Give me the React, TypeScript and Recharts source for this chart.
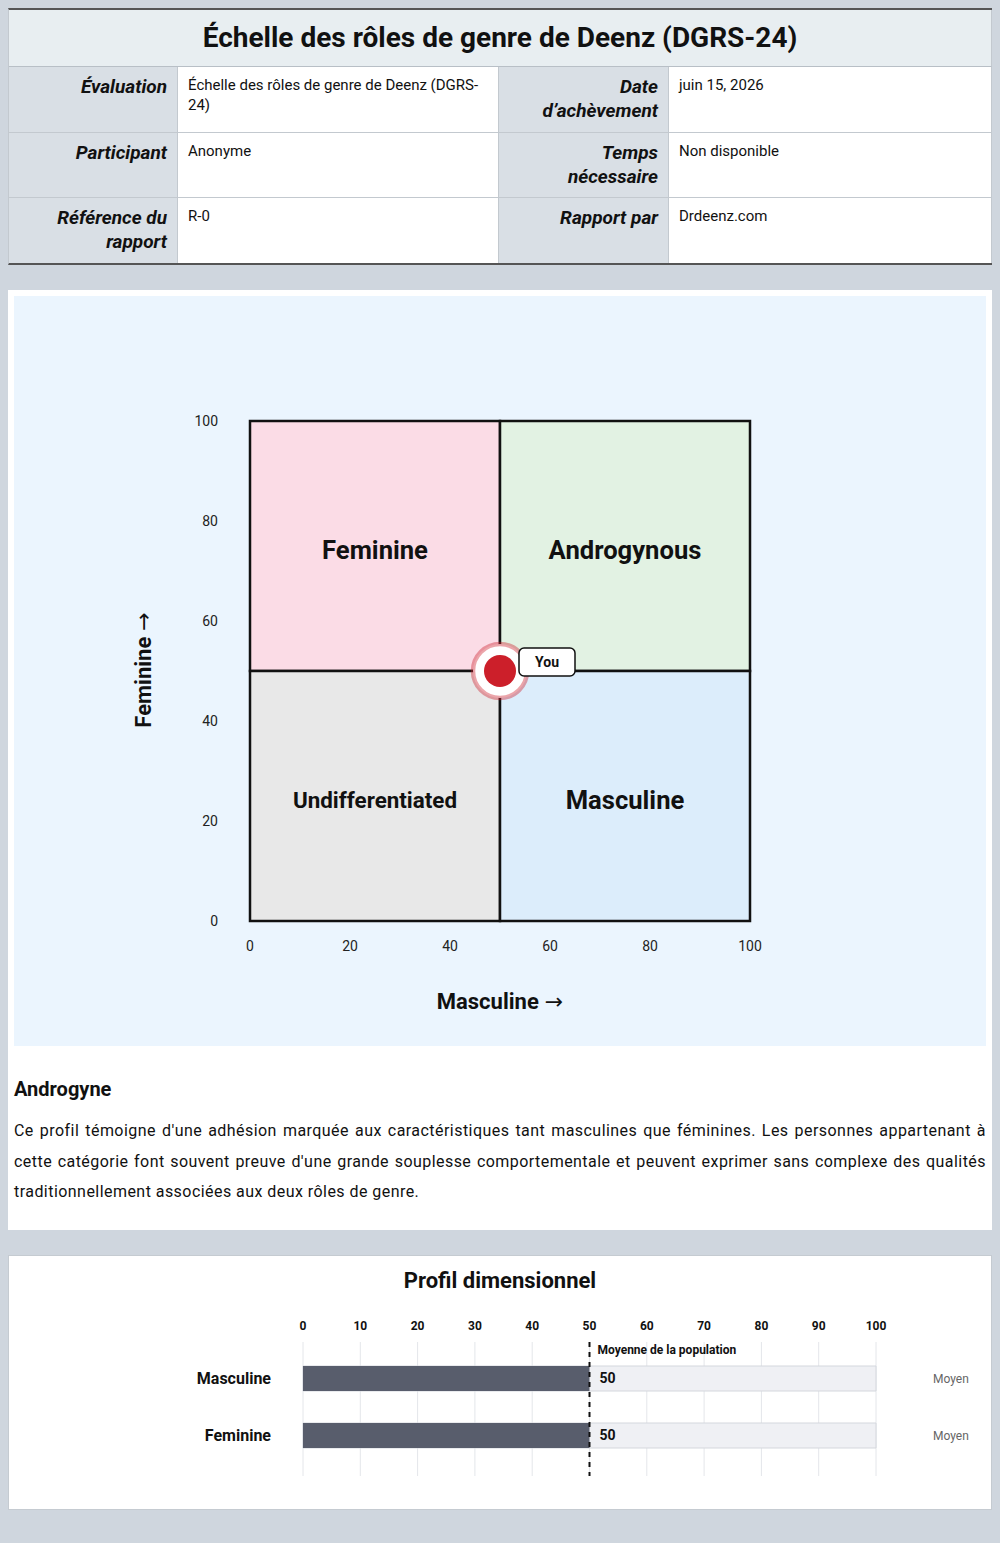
import {
  ScatterChart, Scatter, XAxis, YAxis, ReferenceArea,
  BarChart, Bar, CartesianGrid, ReferenceLine, LabelList,
} from 'recharts';

// quadrant map
const axisTicks = [0, 20, 40, 60, 80, 100];
const quadrantNames = ['Feminine', 'Androgynous', 'Undifferentiated', 'Masculine'];
const quadrantX: [number, number][] = [[0, 50], [50, 100], [0, 50], [50, 100]];
const quadrantY: [number, number][] = [[50, 100], [50, 100], [0, 50], [0, 50]];
const quadrantColors = ['#fbdce6', '#e2f2e3', '#e8e8e8', '#dcedfb'];
const youMasculine = 50;
const youFeminine = 50;

// dimensional profile
const dimensions = ['Masculine', 'Feminine'];
const dimensionScores = [50, 50];
const dimensionLevels = ['Moyen', 'Moyen'];
const populationMean = 50;
const profileTicks = [0, 10, 20, 30, 40, 50, 60, 70, 80, 90, 100];

const infoRows = [
  ['Évaluation', 'Échelle des rôles de genre de Deenz (DGRS-24)', 'Date d’achèvement', 'juin 15, 2026'],
  ['Participant', 'Anonyme', 'Temps nécessaire', 'Non disponible'],
  ['Référence du rapport', 'R-0', 'Rapport par', 'Drdeenz.com'],
];
const rowHeights = [65, 64, 65];

const font = 'Roboto, "Noto Sans", sans-serif';
const arrowFont = '"DejaVu Sans", sans-serif';

function YouMarker(props: any) {
  const { cx, cy } = props;
  return (
    <g>
      <circle cx={cx} cy={cy} r={27} fill="#fff" stroke="rgba(204,31,42,0.4)" strokeWidth={4.5} />
      <circle cx={cx} cy={cy} r={16} fill="#cc1f2a" />
      <rect x={cx + 19} y={cy - 23} width={56} height={28} rx={5} fill="#fff" stroke="#111" strokeWidth={1.5} />
      <text x={cx + 47} y={cy - 4} textAnchor="middle" fontSize={14} fontWeight={700} fill="#111">You</text>
    </g>
  );
}

function InfoTable() {
  const labelCell: any = {
    background: '#d9dfe5', fontWeight: 700, fontStyle: 'italic', fontSize: 19, lineHeight: '24px',
    textAlign: 'right', padding: '8px 10px', boxSizing: 'border-box',
    borderRight: '1px solid #c3c9cf', color: '#111',
  };
  const valueCell: any = {
    background: '#fff', fontSize: 15, lineHeight: '20px', padding: '8px 10px',
    boxSizing: 'border-box', borderRight: '1px solid #c3c9cf', color: '#111',
  };
  return (
    <div style={{ borderTop: '2px solid #555', borderBottom: '2px solid #555', borderLeft: '1px solid #c3c9cf' }}>
      <div style={{ background: '#e8eef1', height: 56, lineHeight: '56px', textAlign: 'center', fontSize: 28, fontWeight: 700, color: '#111', borderBottom: '1px solid #b8bfc6', borderRight: '1px solid #c3c9cf' }}>
        Échelle des rôles de genre de Deenz (DGRS-24)
      </div>
      {infoRows.map((row, i) => (
        <div key={i} style={{ display: 'grid', gridTemplateColumns: '169px 321px 170px 1fr', height: rowHeights[i], borderBottom: i < infoRows.length - 1 ? '1px solid #c3c9cf' : 'none' }}>
          <div style={labelCell}>{row[0]}</div>
          <div style={valueCell}>{row[1]}</div>
          <div style={labelCell}>{row[2]}</div>
          <div style={valueCell}>{row[3]}</div>
        </div>
      ))}
    </div>
  );
}

function AxisTitle({ x, y, text, rotate }: { x: number; y: number; text: string; rotate?: boolean }) {
  return (
    <text
      x={x} y={y} textAnchor="middle" dominantBaseline="central" fontSize={22} fontWeight={700} fill="#111"
      transform={rotate ? `rotate(-90, ${x}, ${y})` : undefined}
    >
      {text}
      <tspan fontFamily={arrowFont} fontWeight={400} dx={6}>→</tspan>
    </text>
  );
}

function QuadrantChart() {
  const you = [{ x: youMasculine, y: youFeminine }];
  return (
    <ScatterChart width={972} height={750} margin={{ top: 125, right: 236, bottom: 0, left: 0 }} style={{ fontFamily: font }}>
      <XAxis
        type="number" dataKey="x" domain={[0, 100]} ticks={axisTicks} height={125}
        axisLine={false} tickLine={false} tickSize={0} tickMargin={20}
        tick={{ fontSize: 14, fill: '#222' }}
        label={(p: any) => <AxisTitle x={p.viewBox.x + p.viewBox.width / 2} y={p.viewBox.y + 80} text="Masculine" />}
      />
      <YAxis
        type="number" dataKey="y" domain={[0, 100]} ticks={axisTicks} width={236}
        axisLine={false} tickLine={false} tickSize={0} tickMargin={32}
        tick={{ fontSize: 14, fill: '#222' }}
        label={(p: any) => <AxisTitle x={p.viewBox.x + 129} y={p.viewBox.y + p.viewBox.height / 2 - 1} text="Feminine" rotate />}
      />
      {quadrantNames.map((name, i) => (
        <ReferenceArea
          key={name}
          x1={quadrantX[i][0]} x2={quadrantX[i][1]} y1={quadrantY[i][0]} y2={quadrantY[i][1]}
          fill={quadrantColors[i]} fillOpacity={1} stroke="#111" strokeWidth={2.5}
          label={(p: any) => (
            <text
              x={p.viewBox.x + p.viewBox.width / 2} y={p.viewBox.y + p.viewBox.height / 2 + 4}
              textAnchor="middle" dominantBaseline="central"
              fontSize={name.length > 12 ? 22.4 : 25.6} fontWeight={700} fill="#111"
            >
              {name}
            </text>
          )}
        />
      ))}
      <Scatter data={you} shape={YouMarker} isAnimationActive={false} />
    </ScatterChart>
  );
}

function ProfileChart() {
  const data = dimensions.map((name, i) => ({ name, score: dimensionScores[i], level: dimensionLevels[i] }));
  return (
    <BarChart layout="vertical" width={982} height={195} data={data} margin={{ top: 0, right: 0, bottom: 14, left: 0 }} style={{ fontFamily: font }}>
      <CartesianGrid horizontal={false} stroke="#e4e6ea" />
      <XAxis
        type="number" orientation="top" domain={[0, 100]} ticks={profileTicks} height={47}
        axisLine={false} tickLine={false} tickSize={0} tickMargin={12}
        tick={{ fontSize: 12, fontWeight: 700, fill: '#111' }}
      />
      <YAxis
        type="category" dataKey="name" width={294} padding={{ top: 8, bottom: 12 }}
        axisLine={false} tickLine={false} tickSize={0} tickMargin={32}
        tick={{ fontSize: 16, fontWeight: 700, fill: '#111' }}
      />
      <YAxis
        yAxisId="level" orientation="right" type="category" dataKey="level" width={115} padding={{ top: 8, bottom: 12 }}
        allowDuplicatedCategory axisLine={false} tickLine={false} tickSize={0} tickMargin={57}
        tick={{ fontSize: 12, fill: '#666' }}
      />
      <ReferenceLine
        x={populationMean} stroke="#111" strokeWidth={2} strokeDasharray="5 5"
        label={(p: any) => (
          <text x={p.viewBox.x + 8} y={p.viewBox.y + 12} fontSize={12} fontWeight={700} fill="#111">Moyenne de la population</text>
        )}
      />
      <Bar dataKey="score" barSize={25} fill="#585d6c" background={{ fill: '#eff0f4', stroke: '#d4d7dd' }} isAnimationActive={false}>
        <LabelList dataKey="score" position="right" offset={10} fontSize={14} fontWeight={700} fill="#111" />
      </Bar>
    </BarChart>
  );
}

export default function App() {
  return (
    <div style={{ position: 'absolute', left: 0, top: 0, width: 1000, minHeight: 1543, background: '#cfd6de', fontFamily: font, color: '#111' }}>
      <div style={{ padding: '8px 8px 0' }}>
        <InfoTable />
        <div style={{ marginTop: 25, background: '#fff', padding: '6px 6px 22px' }}>
          <div style={{ background: '#ebf5fe', height: 750 }}>
            <QuadrantChart />
          </div>
          <div style={{ fontSize: 20, fontWeight: 700, lineHeight: '24px', margin: '31px 0 15px' }}>Androgyne</div>
          <p style={{ margin: 0, fontSize: 16, lineHeight: '30.5px', letterSpacing: '0.45px', textAlign: 'justify' }}>
            Ce profil témoigne d'une adhésion marquée aux caractéristiques tant masculines que féminines. Les personnes appartenant à cette catégorie font souvent preuve d'une grande souplesse comportementale et peuvent exprimer sans complexe des qualités traditionnellement associées aux deux rôles de genre.
          </p>
        </div>
        <div style={{ marginTop: 25, background: '#fff', border: '1px solid #c5cbd1', paddingBottom: 19 }}>
          <div style={{ fontSize: 22, fontWeight: 700, lineHeight: '28px', paddingTop: 11, textAlign: 'center' }}>Profil dimensionnel</div>
          <ProfileChart />
        </div>
      </div>
    </div>
  );
}
